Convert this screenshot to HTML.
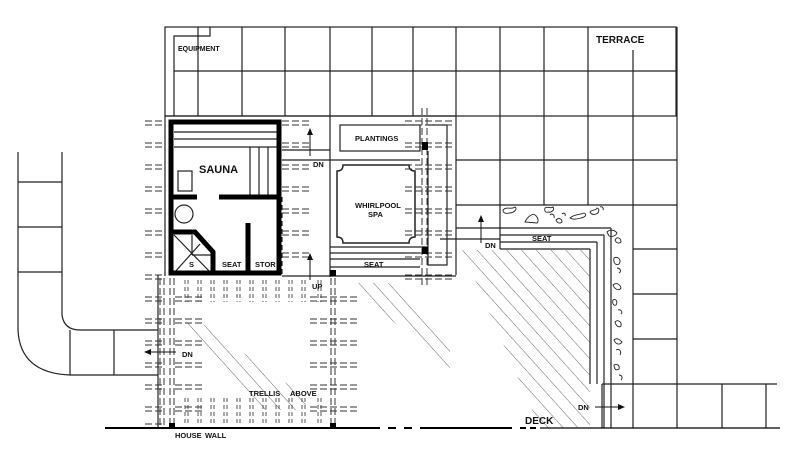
<!DOCTYPE html>
<html><head><meta charset="utf-8"><style>
html,body{margin:0;padding:0;background:#fff}
svg{display:block}
text{font-family:"Liberation Sans",sans-serif;fill:#111;font-weight:bold}
</style></head><body>
<svg width="800" height="459" viewBox="0 0 800 459" xmlns="http://www.w3.org/2000/svg">
<defs>
<pattern id="h" width="11" height="11" patternUnits="userSpaceOnUse" patternTransform="rotate(-42)">
<line x1="0" y1="0" x2="0" y2="11" stroke="#444" stroke-width="0.8"/>
</pattern>
<marker id="a" markerWidth="8" markerHeight="8" refX="4" refY="4" orient="auto"><path d="M0,1 L7,4 L0,7 Z" fill="#111"/></marker>
</defs>
<g stroke="#222" stroke-width="1.2" fill="none">
<rect x="165" y="27" width="511" height="89"/>
<line x1="174" y1="71" x2="676" y2="71"/>
<polyline points="174,116 174,36 210,36 210,27"/>
<line x1="198" y1="27" x2="198" y2="116"/>
<line x1="242" y1="27" x2="242" y2="116"/>
<line x1="285" y1="27" x2="285" y2="116"/>
<line x1="330" y1="27" x2="330" y2="116"/>
<line x1="372" y1="27" x2="372" y2="116"/>
<line x1="413" y1="27" x2="413" y2="116"/>
<line x1="456" y1="27" x2="456" y2="275"/>
<line x1="500" y1="27" x2="500" y2="249"/>
<line x1="544" y1="27" x2="544" y2="205"/>
<line x1="588" y1="27" x2="588" y2="205"/>
<line x1="633" y1="50" x2="633" y2="428"/>
<line x1="677" y1="27" x2="677" y2="428"/>
<line x1="456" y1="160" x2="677" y2="160"/>
<line x1="456" y1="205" x2="677" y2="205"/>
<line x1="633" y1="249" x2="677" y2="249"/>
<line x1="633" y1="294" x2="677" y2="294"/>
<line x1="633" y1="339" x2="677" y2="339"/>
<line x1="602" y1="384" x2="777" y2="384"/>
<line x1="722" y1="384" x2="722" y2="428"/>
<line x1="766" y1="384" x2="766" y2="428"/>
<line x1="456" y1="228" x2="611" y2="228"/>
<line x1="500" y1="235" x2="604" y2="235"/>
<line x1="500" y1="242" x2="597" y2="242"/>
<line x1="500" y1="249" x2="590" y2="249"/>
<line x1="440" y1="239" x2="500" y2="239"/>
<line x1="611" y1="228" x2="611" y2="428"/>
<line x1="604" y1="235" x2="604" y2="428"/>
<line x1="597" y1="242" x2="597" y2="384"/>
<line x1="590" y1="249" x2="590" y2="384"/>
<line x1="602" y1="384" x2="602" y2="428"/>
<line x1="18" y1="152" x2="18" y2="330"/>
<line x1="62" y1="152" x2="62" y2="315"/>
<line x1="18" y1="182" x2="62" y2="182"/>
<line x1="18" y1="227" x2="62" y2="227"/>
<line x1="18" y1="272" x2="62" y2="272"/>
<path d="M18,330 Q20,373 70,375 L158,375"/>
<path d="M62,315 Q64,330 80,330 L158,330"/>
<line x1="70" y1="330" x2="70" y2="375"/>
<line x1="114" y1="330" x2="114" y2="375"/>
<line x1="158" y1="275" x2="158" y2="428"/>
<line x1="165" y1="116" x2="456" y2="116"/>
<line x1="282" y1="150" x2="330" y2="150"/>
<line x1="282" y1="160" x2="420" y2="160"/>
<line x1="330" y1="116" x2="330" y2="277"/>
<line x1="330" y1="247" x2="428" y2="247"/>
<line x1="330" y1="253" x2="420" y2="253"/>
<line x1="330" y1="259" x2="420" y2="259"/>
<line x1="330" y1="267" x2="420" y2="267"/>
<line x1="282" y1="276" x2="456" y2="276"/>
<rect x="340" y="125" width="80" height="26"/>
<polyline points="428,151 428,265 447,265 447,125 428,125"/>
<path d="M343,165 L409,165 Q409,171 415,171 L415,237 Q409,237 409,243 L343,243 Q343,237 337,237 L337,171 Q343,171 343,165 Z" stroke-width="1.5"/>
<rect x="178" y="171" width="14" height="20"/>
<circle cx="184" cy="214" r="9"/>
<line x1="174" y1="235" x2="211" y2="273"/><line x1="174" y1="273" x2="200" y2="244"/>
<line x1="192" y1="235" x2="192" y2="255"/><line x1="192" y1="255" x2="211" y2="255"/>
<line x1="174" y1="132" x2="279" y2="132"/>
<line x1="174" y1="139" x2="279" y2="139"/>
<line x1="174" y1="147" x2="279" y2="147"/>
<line x1="250" y1="147" x2="250" y2="197"/>
<line x1="259" y1="147" x2="259" y2="197"/>
<line x1="268" y1="147" x2="268" y2="197"/>
<line x1="282" y1="197" x2="282" y2="276" stroke-dasharray="5,3"/>
<line x1="165" y1="116" x2="165" y2="276"/>
</g>
<g stroke="#000" stroke-width="5" fill="none">
<rect x="171" y="122" width="108" height="151"/>
<line x1="219" y1="197" x2="279" y2="197"/>
<line x1="171" y1="197" x2="197" y2="197"/>
<polyline points="171,232 195,232 213,252 213,273"/>
<line x1="248" y1="223" x2="248" y2="273"/>
</g>
<g fill="url(#h)" stroke="none">
<polygon points="462,250 590,250 590,428 540,428"/>
<polygon points="350,283 390,283 450,345 450,372"/>
<polygon points="185,335 190,315 310,400 300,410 255,410"/>
</g>
<g stroke="#333" stroke-width="1" stroke-dasharray="7,3" fill="none">
<path d="M145,121h20M145,125h20 M145,143h20M145,147h20 M145,165h20M145,169h20 M145,187h20M145,191h20 M145,209h20M145,213h20 M145,231h20M145,235h20 M145,253h20M145,257h20 M145,275h20M145,279h20 M145,297h20M145,301h20 M145,319h20M145,323h20 M145,341h20M145,345h20 M145,363h20M145,367h20 M145,385h20M145,389h20 M145,407h20M145,411h20 M145,424h20"/>
<path d="M282,121h28M282,125h28 M282,143h28M282,147h28 M282,165h28M282,169h28 M282,187h28M282,191h28 M282,209h28M282,213h28 M282,231h28M282,235h28 M282,253h28M282,257h28"/>
<path d="M405,121h50M405,125h50 M405,143h50M405,147h50 M405,165h50M405,169h50 M405,187h50M405,191h50 M405,209h50M405,213h50 M405,231h50M405,235h50 M405,253h50M405,257h50 M405,275h50M405,279h50"/>
<path d="M175,297h30M175,301h30 M175,319h30M175,323h30 M175,341h30M175,345h30 M175,363h30M175,367h30 M175,385h30M175,389h30 M175,407h30M175,411h30"/>
<path d="M310,297h50M310,301h50 M310,319h50M310,323h50 M310,341h50M310,345h50 M310,363h50M310,367h50 M310,385h50M310,389h50 M310,407h50M310,411h50"/>
<path d="M422,108v180M427,108v180 M331,278v150M335,278v150 M170,278v150M174,278v150 M160,278v150M164,278v150"/>
</g>
<g stroke="#444" stroke-width="0.9" stroke-dasharray="4,3" fill="none">
<path d="M185,280v22M188,280v22 M198,280v22M201,280v22 M211,280v22M214,280v22 M224,280v22M227,280v22 M237,280v22M240,280v22 M250,280v22M253,280v22 M263,280v22M266,280v22 M276,280v22M279,280v22 M289,280v22M292,280v22 M302,280v22M305,280v22 M318,280v22M321,280v22"/>
<path d="M185,398v26M188,398v26 M198,398v26M201,398v26 M211,398v26M214,398v26 M224,398v26M227,398v26 M237,398v26M240,398v26 M250,398v26M253,398v26 M263,398v26M266,398v26 M276,398v26M279,398v26 M289,398v26M292,398v26 M302,398v26M305,398v26 M318,398v26M321,398v26"/>
</g>
<g stroke="#000" stroke-width="2" fill="none">
<line x1="105" y1="428" x2="380" y2="428"/>
<line x1="388" y1="428" x2="396" y2="428"/><line x1="404" y1="428" x2="412" y2="428"/>
<line x1="420" y1="428" x2="512" y2="428"/>
<line x1="520" y1="428" x2="526" y2="428"/><line x1="530" y1="428" x2="536" y2="428"/>
<line x1="540" y1="428" x2="780" y2="428" stroke-width="1.2"/>
</g>
<g fill="#000">
<rect x="169" y="423" width="6" height="6"/><rect x="330" y="423" width="6" height="6"/>
<rect x="330" y="270" width="6" height="6"/><rect x="422" y="142" width="6" height="8"/><rect x="422" y="247" width="6" height="7"/>
</g>
<g stroke="#111" stroke-width="1" fill="none" marker-end="url(#a)">
<line x1="310" y1="156" x2="310" y2="131"/>
<line x1="310" y1="280" x2="310" y2="256"/>
<line x1="481" y1="243" x2="481" y2="218"/>
<line x1="176" y1="352" x2="147" y2="352"/>
<line x1="595" y1="407" x2="622" y2="407"/>
</g>
<g stroke="#222" stroke-width="0.9" fill="none">
<path d="M503,210c4,-4 8,0 12,-3c3,2 -1,6 -6,6c-3,1 -6,0 -6,-3z"/>
<path d="M525,222c3,-6 8,-9 10,-7c3,2 4,6 2,8z"/>
<path d="M545,208c3,-2 6,1 8,-1c2,3 -2,6 -5,5c-2,1 -4,-1 -3,-4z M550,215c2,-2 5,0 4,3"/>
<path d="M570,218c4,-4 10,-3 14,-5c3,1 2,4 -3,5c-4,1 -8,2 -11,0z"/>
<path d="M590,212c2,-3 6,-1 7,-4c3,1 2,5 -1,6c-3,1 -5,0 -6,-2z M600,207c2,-1 4,1 3,3"/>
<path d="M556,220c3,-3 6,-1 6,2c-2,2 -5,1 -6,-2z M562,214c2,-2 4,0 3,2"/>
<path d="M607,232c3,-3 8,-2 10,1c-1,3 -5,4 -8,3z"/>
<path d="M615,240c2,-4 6,-2 6,2c-2,2 -5,1 -6,-2z"/>
<path d="M614,258c4,-2 8,2 5,6c-3,2 -6,-1 -5,-6z M617,268c3,0 5,3 2,5"/>
<path d="M613,285c3,-3 7,-1 8,3c-2,3 -6,2 -8,-3z"/>
<path d="M613,300c3,-2 5,2 3,5c-2,1 -4,-1 -3,-5z M618,310c3,-1 5,2 3,4"/>
<path d="M615,322c3,-3 7,0 6,4c-2,2 -5,0 -6,-4z"/>
<path d="M614,340c3,-3 6,0 8,2c-2,3 -6,3 -8,-2z M616,350c3,-2 6,1 4,5"/>
<path d="M614,365c3,-2 6,1 5,4c-3,2 -5,0 -5,-4z M619,375c3,0 4,3 2,5"/>
</g>
<g font-size="7.5">
<text x="178" y="51" font-weight="normal" font-size="7">EQUIPMENT</text>
<text x="596" y="43" font-size="10" font-weight="normal">TERRACE</text>
<text x="199" y="173" font-size="11" font-weight="normal">SAUNA</text>
<text x="355" y="141">PLANTINGS</text>
<text x="355" y="208">WHIRLPOOL</text>
<text x="368" y="217">SPA</text>
<text x="189" y="267">S</text>
<text x="222" y="267">SEAT</text>
<text x="255" y="267">STOR</text>
<text x="364" y="267">SEAT</text>
<text x="313" y="167" font-weight="normal">DN</text>
<text x="312" y="289" font-weight="normal">UP</text>
<text x="485" y="248" font-weight="normal">DN</text>
<text x="532" y="241">SEAT</text>
<text x="182" y="357" font-weight="normal">DN</text>
<text x="249" y="396">TRELLIS</text>
<text x="290" y="396">ABOVE</text>
<text x="175" y="438">HOUSE</text>
<text x="205" y="438">WALL</text>
<text x="525" y="424" font-size="10" font-weight="normal">DECK</text>
<text x="578" y="410" font-weight="normal">DN</text>
</g>
</svg>
</body></html>
